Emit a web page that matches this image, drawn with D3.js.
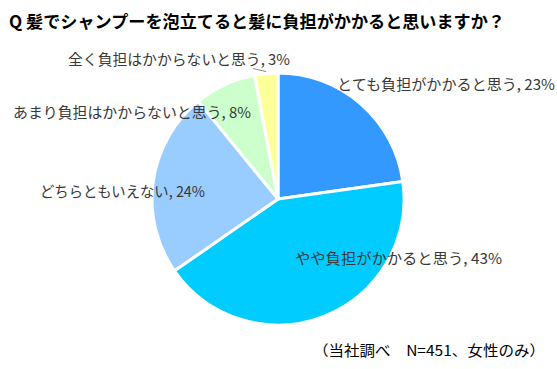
<!DOCTYPE html>
<html><head><meta charset="utf-8">
<script src="https://cdn.jsdelivr.net/npm/d3@7"></script>
<style>body{margin:0;background:#fff}svg{display:block}</style>
</head><body>
<svg id="c" width="557" height="369"></svg>
<script>
const title = "Q 髪でシャンプーを泡立てると髪に負担がかかると思いますか？";
const categories = ["とても負担がかかると思う","やや負担がかかると思う","どちらともいえない","あまり負担はかからないと思う","全く負担はかからないと思う"];
const values = [23,43,24,8,3];
const colors = ["#3399FF","#00CCFF","#99CCFF","#CCFFCC","#FFFF99"];
const footnote = "（当社調べ　N=451、女性のみ）";
// label placement (layout only): x, baseline y, text width
const labelPos = [[337,90,218],[295,264,207],[40,197,165],[13,118,238],[68,65,222]];

const svg = d3.select("#c");
const font = "'Noto Sans CJK JP','Noto Sans',sans-serif";
svg.append("text").attr("x",9).attr("y",28).attr("font-family",font)
  .attr("font-weight","bold").attr("font-size",17).attr("fill","#000")
  .attr("textLength",496).attr("lengthAdjust","spacingAndGlyphs").text(title);

const cx=278, cy=199, r=126;
const pie = d3.pie().sort(null).value(d=>d)(values);
const arc = d3.arc().innerRadius(0).outerRadius(r);
const g = svg.append("g").attr("transform",`translate(${cx},${cy})`);
g.selectAll("path").data(pie).join("path").attr("d",arc)
  .attr("fill",(d,i)=>colors[i]).attr("stroke","#fff").attr("stroke-width",3).attr("stroke-linejoin","round");

// leader line for smallest slice
const small = pie[4];
const mid = (small.startAngle+small.endAngle)/2;
const p1 = [cx+Math.sin(mid)*(r+2), cy-Math.cos(mid)*(r+2)];
svg.append("path").attr("d",`M${p1[0]-13},${p1[1]-3}L${p1[0]},${p1[1]}`)
  .attr("stroke","#888").attr("fill","none").attr("stroke-width",1);

svg.selectAll("text.lbl").data(categories).join("text").attr("class","lbl")
  .attr("x",(d,i)=>labelPos[i][0]).attr("y",(d,i)=>labelPos[i][1])
  .attr("font-family",font).attr("font-size",15).attr("fill","#383838")
  .attr("textLength",(d,i)=>labelPos[i][2]).attr("lengthAdjust","spacingAndGlyphs")
  .text((d,i)=>d+", "+values[i]+"%");

svg.append("text").attr("x",313).attr("y",356).attr("font-family",font)
  .attr("font-size",14.5).attr("fill","#000")
  .attr("textLength",232).attr("lengthAdjust","spacingAndGlyphs").text(footnote);
</script>
</body></html>
